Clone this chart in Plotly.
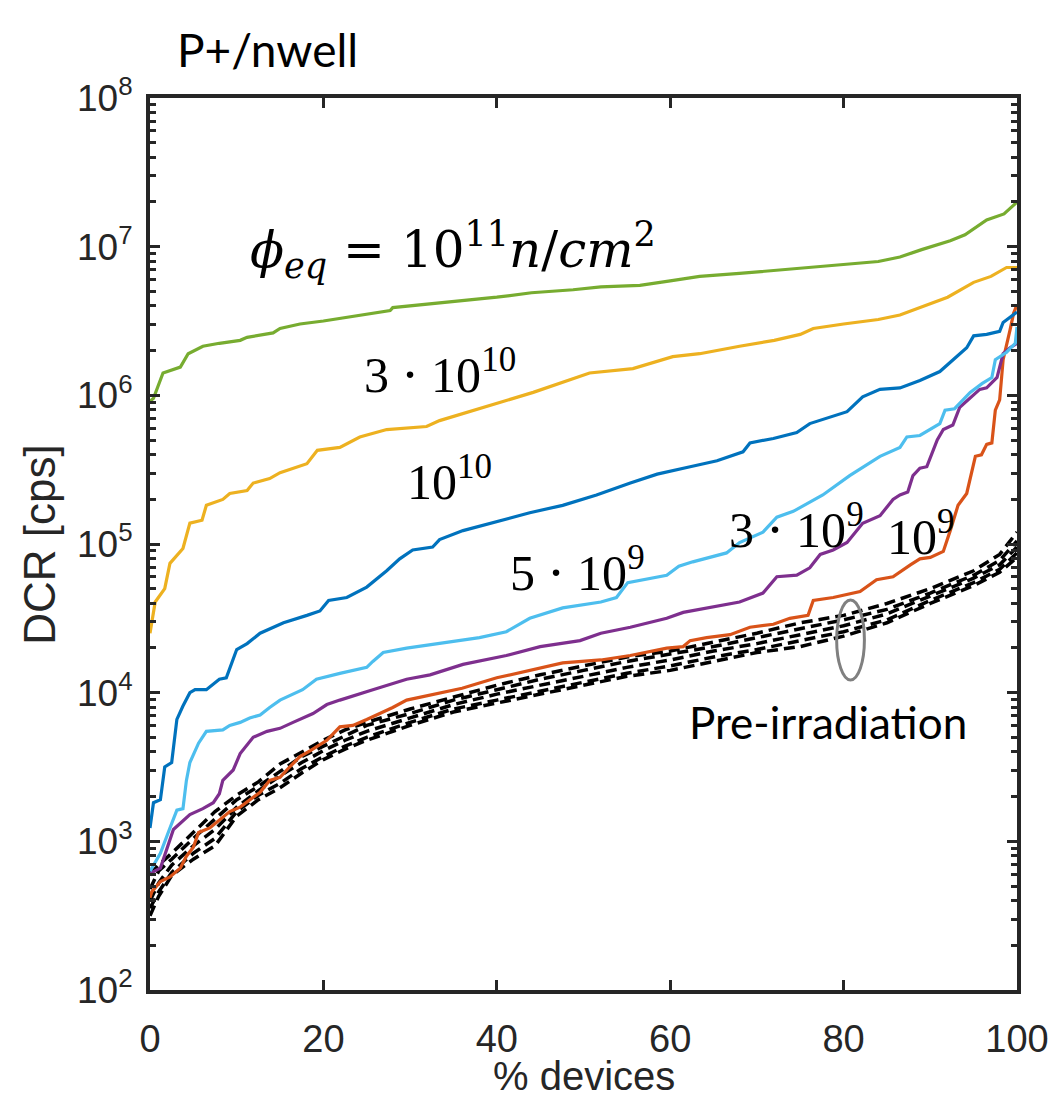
import numpy as np
import plotly.graph_objects as go

# ---------------- data (DCR given as log10(cps)) ----------------
x_1e11 = [0, 0.4, 1.5, 3.5, 4.4, 6.1, 8, 10.4, 11.2, 14.2, 15, 17.3, 20, 23.4, 27.7, 28, 33.4, 37.3,
          40, 44, 48.8, 52, 56.5, 60, 63.4, 68, 72, 76, 80, 84, 86.5, 89, 92.3, 94, 96.5, 98.5, 100]
log_1e11 = [5.96, 5.98, 6.15, 6.19, 6.28, 6.33, 6.35, 6.37, 6.39, 6.42, 6.45, 6.48, 6.50, 6.53, 6.57, 6.59,
            6.62, 6.64, 6.66, 6.69, 6.71, 6.73, 6.74, 6.77, 6.80, 6.82, 6.84, 6.86, 6.88, 6.90, 6.93, 6.98,
            7.04, 7.08, 7.18, 7.22, 7.30]

x_3e10 = [0, 0.6, 1.7, 2.3, 3.8, 4.6, 6, 6.5, 8.4, 9.2, 11.2, 11.9, 13.8, 15, 18.1, 19.3, 21.9, 24.2,
          27.3, 31.9, 33.4, 38.4, 44.2, 50.7, 55.7, 60.3, 63.4, 68, 72, 75, 76.5, 80, 84, 86.5, 90.3,
          92, 95, 97, 98.8, 100]
log_3e10 = [4.40, 4.61, 4.70, 4.87, 4.97, 5.14, 5.16, 5.26, 5.30, 5.34, 5.36, 5.41, 5.44, 5.48, 5.54,
            5.63, 5.65, 5.72, 5.77, 5.79, 5.83, 5.92, 6.02, 6.15, 6.18, 6.26, 6.28, 6.33, 6.37, 6.41,
            6.45, 6.48, 6.51, 6.54, 6.62, 6.66, 6.76, 6.80, 6.86, 6.86]

x_1e10 = [0, 0.4, 1.2, 1.7, 2.5, 3.1, 3.8, 4.6, 5.2, 6.5, 8, 8.8, 10, 11.2, 12.7, 15.4, 18.1, 19.6,
          20.6, 22.7, 25, 27.3, 28.8, 30.3, 32.6, 33.4, 36.1, 40, 43.8, 47.6, 51.5, 55.4, 58.5, 62.3,
          65.4, 68.4, 69.2, 71.9, 74.6, 76.1, 80.4, 82.2, 84.2, 86.5, 88.8, 91.1, 92.3, 94.2, 95,
          96.5, 98, 98.4, 100]
log_1e10 = [3.09, 3.26, 3.28, 3.50, 3.53, 3.82, 3.91, 4.00, 4.02, 4.02, 4.09, 4.10, 4.29, 4.33, 4.40,
            4.47, 4.52, 4.55, 4.62, 4.64, 4.71, 4.82, 4.90, 4.96, 4.98, 5.03, 5.09, 5.15, 5.21, 5.26,
            5.33, 5.41, 5.47, 5.52, 5.56, 5.62, 5.68, 5.71, 5.75, 5.81, 5.89, 5.99, 6.04, 6.05, 6.10,
            6.16, 6.22, 6.32, 6.40, 6.41, 6.43, 6.49, 6.56]

x_5e9 = [0, 0.2, 1.2, 2.3, 3.1, 3.8, 4.2, 4.6, 5.6, 6.5, 8.4, 9.2, 10.4, 11.5, 12.7, 13.8, 15, 17.6,
         19.2, 21.9, 25, 25.7, 26.9, 29.6, 33.4, 38, 41.1, 43.8, 47.6, 52, 53.8, 55.1, 59.6, 61, 62.6,
         66.5, 68, 70.7, 72.3, 74.2, 77.6, 80.7, 84.2, 86.5, 87.3, 88.8, 91.1, 91.7, 92.8, 94.6, 96,
         97.1, 97.5, 98.8, 99.8, 100]
log_5e9 = [2.80, 2.82, 2.92, 3.09, 3.21, 3.22, 3.41, 3.53, 3.66, 3.74, 3.75, 3.78, 3.80, 3.83, 3.85,
           3.90, 3.95, 4.02, 4.09, 4.13, 4.17, 4.21, 4.27, 4.30, 4.33, 4.37, 4.41, 4.50, 4.57, 4.61,
           4.64, 4.74, 4.79, 4.85, 4.88, 4.94, 5.01, 5.08, 5.18, 5.22, 5.33, 5.46, 5.59, 5.65, 5.72,
           5.73, 5.81, 5.90, 5.91, 6.02, 6.08, 6.12, 6.24, 6.29, 6.35, 6.46]

x_3e9 = [0, 0.2, 1.2, 2.7, 4.6, 6.1, 7.3, 8, 8.4, 9.6, 10.4, 11.9, 13.5, 15, 16.5, 18.8, 20.4, 21.9,
         25.7, 29.6, 32.3, 36.1, 41.1, 45, 49.6, 52, 55.4, 59.6, 61.5, 63.4, 66.1, 68, 70.7, 72.3,
         74.6, 76.1, 77.3, 78.8, 80.4, 82.2, 84.2, 85.7, 86.5, 87.4, 88, 88.8, 89.6, 90.8, 91.5,
         92.6, 93.4, 95.7, 96.5, 97.7, 98.4, 99.2, 100]
log_3e9 = [2.77, 2.79, 2.82, 3.08, 3.18, 3.22, 3.26, 3.32, 3.41, 3.48, 3.59, 3.70, 3.74, 3.76, 3.80,
           3.86, 3.92, 3.95, 4.02, 4.09, 4.12, 4.19, 4.25, 4.31, 4.35, 4.40, 4.44, 4.50, 4.54, 4.56,
           4.59, 4.61, 4.67, 4.78, 4.79, 4.84, 4.93, 4.96, 5.01, 5.14, 5.19, 5.30, 5.33, 5.35, 5.46,
           5.51, 5.52, 5.70, 5.77, 5.80, 5.92, 6.04, 6.05, 6.12, 6.28, 6.32, 6.35]

x_1e9 = [0, 0.2, 1.2, 2.3, 3.5, 4.2, 5, 5.6, 6.9, 8, 9.2, 10.4, 11.5, 12.7, 13.8, 15, 16.1, 17.3,
         18.5, 20.4, 21.9, 23.4, 25, 26.5, 28, 29.6, 33, 36, 40, 44, 47.6, 52, 55.4, 59.6, 61.5, 62.3,
         64.2, 66.9, 69.2, 71.9, 73.8, 75.9, 76.5, 78.8, 81.9, 83.8, 85.7, 87.7, 88.8, 90, 91.5,
         92.3, 93.2, 94.2, 95.2, 95.9, 96.5, 97.1, 97.5, 98, 98.4, 99.2, 99.6, 100]
log_1e9 = [2.62, 2.66, 2.73, 2.76, 2.82, 2.90, 2.96, 3.06, 3.09, 3.14, 3.20, 3.23, 3.28, 3.33, 3.41,
           3.43, 3.50, 3.57, 3.61, 3.68, 3.77, 3.78, 3.82, 3.86, 3.90, 3.95, 3.99, 4.03, 4.10, 4.15,
           4.20, 4.22, 4.25, 4.30, 4.31, 4.35, 4.37, 4.39, 4.44, 4.46, 4.50, 4.52, 4.62, 4.64, 4.68,
           4.76, 4.78, 4.86, 4.90, 4.91, 4.95, 5.09, 5.26, 5.34, 5.59, 5.60, 5.67, 5.68, 5.90, 5.97,
           6.24, 6.44, 6.55, 6.61]

# pre-irradiation curves (five device sets)
x_pre = [0, 1, 2.5, 5, 7.5, 10, 12.5, 15, 17.5, 20, 22.5, 25, 30, 35, 40, 45, 50, 55, 60, 65, 70,
         75, 80, 85, 90, 95, 98, 100]
log_pre_a = [2.78, 2.84, 2.92, 3.06, 3.20, 3.31, 3.40, 3.52, 3.60, 3.68, 3.75, 3.80, 3.89, 3.97, 4.05,
             4.12, 4.18, 4.24, 4.28, 4.34, 4.40, 4.47, 4.52, 4.60, 4.70, 4.82, 4.93, 5.08]
log_pre_b = [2.68, 2.80, 2.88, 3.02, 3.15, 3.28, 3.37, 3.47, 3.57, 3.64, 3.71, 3.78, 3.86, 3.95, 4.02,
             4.09, 4.15, 4.21, 4.26, 4.31, 4.37, 4.43, 4.49, 4.56, 4.67, 4.79, 4.89, 5.02]
log_pre_c = [2.60, 2.72, 2.84, 2.97, 3.08, 3.23, 3.34, 3.44, 3.53, 3.61, 3.68, 3.74, 3.83, 3.92, 3.99,
             4.05, 4.11, 4.17, 4.22, 4.28, 4.33, 4.39, 4.45, 4.53, 4.65, 4.77, 4.86, 4.98]
log_pre_d = [2.55, 2.66, 2.79, 2.92, 3.02, 3.20, 3.31, 3.39, 3.49, 3.57, 3.64, 3.70, 3.80, 3.89, 3.95,
             4.01, 4.07, 4.13, 4.18, 4.24, 4.29, 4.35, 4.41, 4.49, 4.62, 4.74, 4.83, 4.94]
log_pre_e = [2.50, 2.63, 2.77, 2.88, 2.97, 3.17, 3.28, 3.36, 3.46, 3.55, 3.62, 3.68, 3.78, 3.87, 3.93,
             3.99, 4.05, 4.11, 4.15, 4.21, 4.27, 4.31, 4.38, 4.47, 4.60, 4.72, 4.81, 4.91]

x_ticks = [0, 20, 40, 60, 80, 100]
y_tick_vals = [1e2, 1e3, 1e4, 1e5, 1e6, 1e7, 1e8]
y_tick_text = ["10<sup>2</sup>", "10<sup>3</sup>", "10<sup>4</sup>", "10<sup>5</sup>",
               "10<sup>6</sup>", "10<sup>7</sup>", "10<sup>8</sup>"]

# ---------------- figure ----------------
fig = go.Figure()

AX = "#262626"
series = [
    (x_1e9, log_1e9, "#D95319"),
    (x_3e9, log_3e9, "#7E2F8E"),
    (x_5e9, log_5e9, "#4DBEEE"),
    (x_1e10, log_1e10, "#0072BD"),
    (x_3e10, log_3e10, "#EDB120"),
    (x_1e11, log_1e11, "#77AC30"),
]

for ys in [log_pre_a, log_pre_b, log_pre_c, log_pre_d, log_pre_e]:
    fig.add_trace(go.Scatter(x=x_pre, y=10 ** np.array(ys), mode="lines",
                             line=dict(color="black", width=3.5, dash="11px,6px"),
                             showlegend=False))

for xs, ys, col in series:
    fig.add_trace(go.Scatter(x=xs, y=10 ** np.array(ys), mode="lines",
                             line=dict(color=col, width=3.2), showlegend=False))

LABEL_FONT = "Liberation Sans Narrow, Liberation Sans, Arial, sans-serif"
MATH_FONT = "Liberation Serif, DejaVu Serif, serif"
PHI_FONT = "DejaVu Serif, Liberation Serif, serif"
TEXT_FONT = "Lato, Noto Sans, sans-serif"

minor_vals = [m * 10 ** e for e in range(2, 8) for m in range(2, 10)]

fig.update_xaxes(range=[0, 100], tickvals=x_ticks, ticks="inside", ticklen=10, tickwidth=3,
                 tickcolor=AX, showline=True, linecolor=AX, linewidth=4, mirror="ticks",
                 showgrid=False, zeroline=False, ticklabelstandoff=12, automargin=False,
                 tickfont=dict(family=LABEL_FONT, size=38, color=AX))
fig.update_yaxes(type="log", range=[2, 8], tickvals=y_tick_vals, ticktext=y_tick_text,
                 ticks="inside", ticklen=10, tickwidth=3, tickcolor=AX, showline=True,
                 linecolor=AX, linewidth=4, mirror="ticks", showgrid=False, zeroline=False,
                 ticklabelstandoff=6, automargin=False,
                 minor=dict(tickvals=minor_vals, ticks="inside", ticklen=6, tickwidth=3,
                            tickcolor=AX, showgrid=False),
                 tickfont=dict(family=LABEL_FONT, size=37, color=AX))

# axis titles
fig.add_annotation(x=0.5, y=-0.096, xref="paper", yref="paper", text="% devices",
                   showarrow=False, xanchor="center", yanchor="middle",
                   font=dict(family=LABEL_FONT, size=40, color=AX))
fig.add_annotation(x=-0.127, y=0.499, xref="paper", yref="paper", text="DCR [cps]",
                   showarrow=False, xanchor="center", yanchor="middle", textangle=-90,
                   font=dict(family=LABEL_FONT, size=44, color=AX))

fig.add_annotation(x=11.3, y=6.98, xref="x", yref="y",
                   text="<i>ϕ</i><sub><i>eq</i></sub> = 10<sup>11</sup><i>n</i>/<i>cm</i><sup>2</sup>",
                   showarrow=False, xanchor="left", yanchor="middle",
                   font=dict(family=PHI_FONT, size=50, color="black"))

annos = [
    ("3 ⋅ 10<sup>10</sup>", 24.5, 6.16),
    ("10<sup>10</sup>", 29.4, 5.44),
    ("5 ⋅ 10<sup>9</sup>", 41.3, 4.83),
    ("3 ⋅ 10<sup>9</sup>", 66.6, 5.12),
    ("10<sup>9</sup>", 84.8, 5.07),
]
for txt, ax_, ay_ in annos:
    fig.add_annotation(x=ax_, y=ay_, xref="x", yref="y", text=txt, showarrow=False,
                       xanchor="left", yanchor="middle",
                       font=dict(family=MATH_FONT, size=50, color="black"))

fig.add_annotation(x=61.9, y=3.80, xref="x", yref="y", text="Pre-irradiation", showarrow=False,
                   xanchor="left", yanchor="middle",
                   font=dict(family=TEXT_FONT, size=44, color="black"))
fig.add_annotation(x=0.029, y=1.054, xref="paper", yref="paper", text="P+/nwell",
                   showarrow=False, xanchor="left", yanchor="middle",
                   font=dict(family=TEXT_FONT, size=46, color="black"))

# grey ellipse marking the pre-irradiation group
fig.add_shape(type="circle", xref="x", yref="y", x0=79.2, x1=82.4,
              y0=10 ** 4.085, y1=10 ** 4.623, line=dict(color="#808080", width=3))

fig.update_layout(width=1055, height=1111, margin=dict(l=150, r=38, t=98, b=121),
                  plot_bgcolor="white", paper_bgcolor="white", showlegend=False)

fig.write_html("out.html")
